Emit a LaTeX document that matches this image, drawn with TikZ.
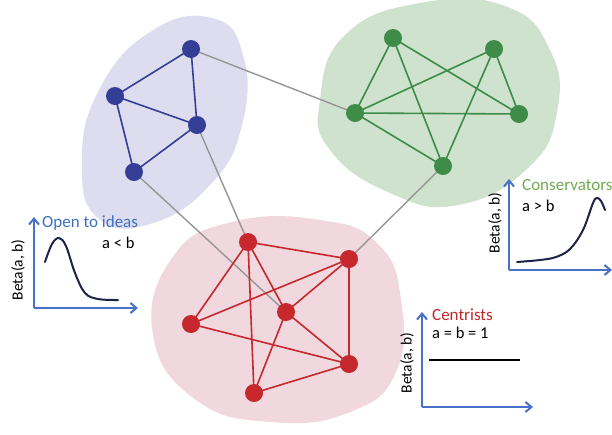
\documentclass[tikz,border=0pt]{standalone}
\usepackage{fontspec}
\setmainfont{Carlito}
\usetikzlibrary{arrows.meta}

\definecolor{bluenode}{RGB}{52,62,150}
\definecolor{blueblob}{RGB}{222,221,240}
\definecolor{greennode}{RGB}{62,140,72}
\definecolor{greenblob}{RGB}{206,226,206}
\definecolor{rednode}{RGB}{198,40,46}
\definecolor{redblob}{RGB}{240,216,222}
\definecolor{linkgray}{RGB}{150,150,150}
\definecolor{axisblue}{RGB}{72,114,200}
\definecolor{labelblue}{RGB}{62,112,192}
\definecolor{labelgreen}{RGB}{112,172,80}
\definecolor{labelred}{RGB}{192,40,40}
\definecolor{curvenavy}{RGB}{28,36,72}

\tikzset{
  vtx/.style={circle, inner sep=0pt, minimum size=18pt},
  bvtx/.style={vtx, fill=bluenode},
  gvtx/.style={vtx, fill=greennode},
  rvtx/.style={vtx, fill=rednode},
  bedge/.style={draw=bluenode, line width=1.6pt},
  gedge/.style={draw=greennode, line width=1.6pt},
  redge/.style={draw=rednode, line width=1.6pt},
  link/.style={draw=linkgray, line width=1.4pt},
  axis/.style={draw=axisblue, line width=2.2pt, -{Straight Barb[length=6pt,width=10pt,line width=2pt]}},
  ylab/.style={rotate=90, font=\fontsize{15.5}{16}\selectfont},
  txt/.style={inner sep=0pt, anchor=west, font=\fontsize{16.5}{18}\selectfont},
  ttl/.style={txt, font=\fontsize{17}{19}\selectfont},
  curve/.style={draw=curvenavy, line width=2pt, line cap=round}
}

\begin{document}
\begin{tikzpicture}[x=1pt, y=-1pt]
\useasboundingbox (0,0) rectangle (612,434);
\fill[white] (0,0) rectangle (612,434);

% cluster backgrounds
\fill[blueblob] plot[smooth cycle, tension=0.8] coordinates
  {(212,18) (243,55) (242,125) (210,185) (150,224) (98,218) (82,165) (98,92) (150,32)};
\fill[greenblob] plot[smooth cycle, tension=0.8] coordinates
  {(345,35) (420,3) (505,6) (550,50) (557,112) (528,168) (458,205) (390,193) (330,150) (320,100)};
\fill[redblob] plot[smooth cycle, tension=0.8] coordinates
  {(172,258) (232,222) (320,220) (378,244) (401,300) (396,372) (350,412) (272,422) (196,400) (153,335)};

% node positions
\coordinate (b1) at (191,49);
\coordinate (b2) at (115,96);
\coordinate (b3) at (197,125);
\coordinate (b4) at (134,172);
\coordinate (g1) at (393,38);
\coordinate (g2) at (494,49);
\coordinate (g3) at (355,113);
\coordinate (g4) at (519,114);
\coordinate (g5) at (443,166);
\coordinate (r1) at (248,242);
\coordinate (r2) at (349,259);
\coordinate (r3) at (191,324);
\coordinate (r4) at (286,312);
\coordinate (r5) at (349,364);
\coordinate (r6) at (254,393);

% links between clusters
\draw[link] (b1) -- (g3);
\draw[link] (b3) -- (r1);
\draw[link] (b4) -- (r4);
\draw[link] (g5) -- (r2);

% edges inside clusters
\draw[bedge] (b1) -- (b2) (b1) -- (b3) (b2) -- (b3) (b2) -- (b4) (b3) -- (b4);
\draw[gedge] (g1) -- (g3) (g1) -- (g4) (g1) -- (g5) (g2) -- (g3) (g2) -- (g4)
             (g2) -- (g5) (g3) -- (g4) (g3) -- (g5);
\draw[redge] (r1) -- (r2) (r1) -- (r3) (r1) -- (r4) (r1) -- (r6) (r3) -- (r2)
             (r2) -- (r4) (r2) -- (r5) (r3) -- (r5) (r4) -- (r5) (r4) -- (r6) (r6) -- (r5);

% nodes
\foreach \n in {b1,b2,b3,b4} \node[bvtx] (n\n) at (\n) {};
\foreach \n in {g1,g2,g3,g4,g5} \node[gvtx] (n\n) at (\n) {};
\foreach \n in {r1,r2,r3,r4,r5,r6} \node[rvtx] (n\n) at (\n) {};

% plot: open to ideas
\coordinate (lo) at (34,308);
\coordinate (ly) at (34,217);
\coordinate (lx) at (138,308);
\draw[axis] (lo) -- (ly);
\draw[axis] (lo) -- (lx);
\node[ylab] (lbeta) at (18,270) {Beta(a, b)};
\node[ttl, text=labelblue] (lopen) at (42,223) {Open to ideas};
\node[txt] (lab) at (102,243) {a < b};
\draw[curve] plot[smooth, tension=0.6] coordinates
  {(45,262) (52,244) (59,238) (66,246) (75,273) (85,293) (98,299) (118,300)};

% plot: conservators
\coordinate (ro) at (509,270);
\coordinate (ry) at (509,179);
\coordinate (rx) at (612,270);
\draw[axis] (ro) -- (ry);
\draw[axis] (ro) -- (rx);
\node[ylab] (rbeta) at (495,223) {Beta(a, b)};
\node[ttl, text=labelgreen] (rcons) at (522,185) {Conservators};
\node[txt] (rab) at (522,206) {a > b};
\draw[curve] plot[smooth, tension=0.6] coordinates
  {(517,262) (540,260) (556,257) (570,249) (583,230) (593,203) (597,198) (601,201) (605,210)};

% plot: centrists
\coordinate (co) at (422,407);
\coordinate (cy) at (422,312);
\coordinate (cx) at (533,407);
\draw[axis] (co) -- (cy);
\draw[axis] (co) -- (cx);
\node[ylab] (cbeta) at (407,363) {Beta(a, b)};
\node[ttl, text=labelred] (ccen) at (432,315) {Centrists};
\node[txt] (cab) at (432,333) {a = b = 1};
\coordinate (cl1) at (429,360);
\coordinate (cl2) at (520,360);
\draw[line width=2pt] (cl1) -- (cl2);
\end{tikzpicture}
\end{document}
